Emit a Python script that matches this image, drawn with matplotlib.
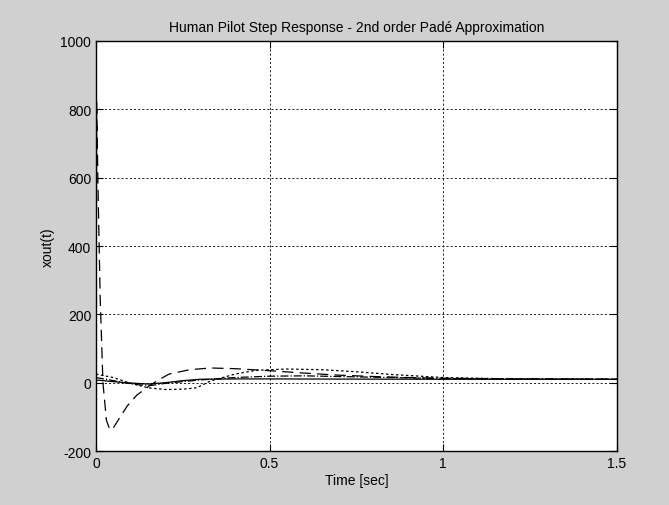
import numpy as np
import matplotlib
matplotlib.use('Agg')
from matplotlib import pyplot as plt

# time samples and responses
t_dash = [0, 0.002, 0.006, 0.012, 0.02, 0.03, 0.04, 0.05, 0.07, 0.09, 0.118,
          0.15, 0.175, 0.21, 0.27, 0.33, 0.4, 0.5, 0.6, 0.7, 0.8, 0.9, 1.0,
          1.2, 1.5]
x_dash = [0, 820, 560, 250, 0, -110, -138, -132, -100, -68, -36,
          -12, 5, 25, 38, 43, 41, 35, 28, 22, 18, 15, 13, 11, 10]

t_dot = [0, 0.05, 0.1, 0.15, 0.2, 0.25, 0.29, 0.33, 0.4, 0.46, 0.55, 0.65,
         0.75, 0.85, 1.0, 1.2, 1.5]
x_dot = [25, 15, -2, -15, -20, -19, -15, 5, 25, 36, 40, 38, 32, 24, 15,
         11, 10]

t_solid = [0, 0.05, 0.1, 0.15, 0.2, 0.25, 0.3, 0.4, 0.5, 0.7, 1.0, 1.5]
x_solid = [8, 3, -1, -4, 0, 6, 10, 11, 11, 10.5, 10, 10]

t_dashdot = [0, 0.04, 0.08, 0.12, 0.16, 0.2, 0.3, 0.4, 0.5, 0.6, 0.7, 0.85,
             1.0, 1.2, 1.5]
x_dashdot = [15, 8, 0, -6, -8, -2, 8, 15, 19, 20, 18, 15, 12, 11, 10]

plt.rcParams['font.family'] = ['Liberation Sans', 'DejaVu Sans']
plt.rcParams['axes.unicode_minus'] = False

fig = plt.figure(figsize=(6.69, 5.06), dpi=100)
fig.patch.set_facecolor('#d0d0d0')
ax = fig.add_axes([0.1435, 0.1067, 0.7785, 0.8103])
ax.set_facecolor('white')

ax.plot(t_solid, x_solid, 'k-', lw=0.9)
ax.plot(t_dash, x_dash, 'k--', lw=0.9, dashes=(9, 5))
ax.plot(t_dot, x_dot, 'k:', lw=0.9, dashes=(2, 2))
ax.plot(t_dashdot, x_dashdot, 'k-.', lw=0.9)

ax.set_xlim(0, 1.5)
ax.set_ylim(-200, 1000)
ax.set_xticks([0, 0.5, 1, 1.5])
ax.set_xticklabels(['0', '0.5', '1', '1.5'])
ax.set_yticks([-200, 0, 200, 400, 600, 800, 1000])
ax.grid(True, color='black', linestyle=(0, (2.5, 2.5)), linewidth=0.6)
ax.tick_params(direction='in', length=5, top=True, right=True,
               labelsize=10, colors='black')
for s in ax.spines.values():
    s.set_linewidth(1.0)

ax.set_title('Human Pilot Step Response - 2nd order Padé Approximation',
             fontsize=10, pad=7)
ax.set_xlabel('Time [sec]', fontsize=10, labelpad=2)
ax.set_ylabel('xout(t)', fontsize=10, labelpad=4)

plt.savefig('out.png', dpi=100, facecolor=fig.get_facecolor())
